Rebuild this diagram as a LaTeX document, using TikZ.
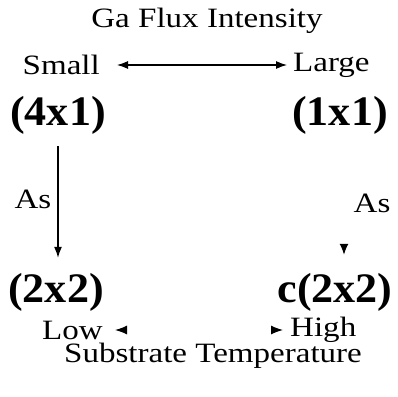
\documentclass[tikz,border=0pt]{standalone}
\usepackage{fontspec}
\setmainfont{Liberation Serif}
\newfontfamily\widserif[FakeStretch=1.18]{Liberation Serif}
\newfontfamily\widbold[FakeStretch=1.05]{Liberation Serif}
\usetikzlibrary{arrows.meta, positioning}
\tikzset{
	axistext/.style={inner sep=0pt, font=\widserif\fontsize{28}{30}\selectfont},
	phase/.style={inner sep=0pt, font=\widbold\bfseries\fontsize{42}{46}\selectfont},
	arrow/.style={-{Latex[length=11pt, width=8pt]}, line width=1.2pt, draw=black},
	twoarrow/.style={{Latex[length=11pt, width=8pt]}-{Latex[length=11pt, width=8pt]}, line width=1.2pt, draw=black},
	% only the heads of these show in the picture
	ghostarrow/.style={-{Latex[black, length=11pt, width=9pt]}, line width=1.2pt, draw=white},
	ghosttwo/.style={{Latex[black, length=12pt, width=9pt]}-{Latex[black, length=12pt, width=9pt]}, line width=1.2pt, draw=white},
}
\begin{document}
\begin{tikzpicture}[x=1pt, y=-1pt]
	\useasboundingbox (0,0) rectangle (398,396);
	\node[axistext] (ga) at (207,21) {Ga Flux Intensity};
	\node[axistext, anchor=east] (small) at (100,65) {Small};
	\node[axistext, anchor=west] (large) at (293,65) {Large};
	\node[phase] (p41) at (58,115) {(4x1)};
	\node[phase] (p11) at (340,115) {(1x1)};
	\node[axistext] (asl) at (33,199) {As};
	\node[axistext] (asr) at (372,203) {As};
	\node[phase] (p22) at (56,292) {(2x2)};
	\node[phase] (c22) at (335,292) {c(2x2)};
	\node[axistext, anchor=east] (low) at (103,330) {Low};
	\node[axistext, anchor=west] (high) at (290,330) {High};
	\node[axistext] (sub) at (213,356) {Substrate Temperature};
	\draw[twoarrow, shorten <=17pt, shorten >=6pt] (small.east) -- (large.west);
	\draw[arrow, shorten <=12pt, shorten >=15pt] (p41.south) -- (p41.south |- p22.north);
	\draw[ghostarrow, shorten <=12pt, shorten >=18pt] ([xshift=4pt]p11.south) -- ([xshift=4pt]p11.south |- c22.north);
	\draw[ghosttwo, shorten <=12pt, shorten >=7pt] (low.east) -- (high.west);
\end{tikzpicture}
\end{document}
